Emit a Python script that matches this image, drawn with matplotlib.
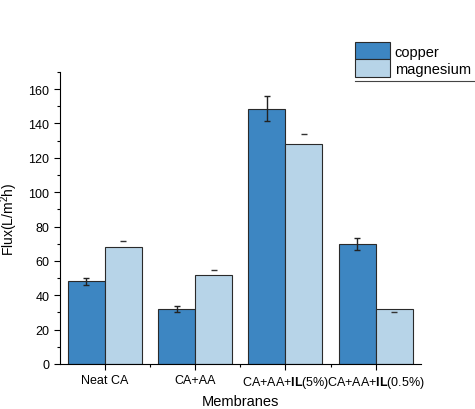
import numpy as np
import matplotlib
matplotlib.use('Agg')
import matplotlib.pyplot as plt
from matplotlib.lines import Line2D

plt.rcParams['font.family'] = ['Liberation Sans', 'DejaVu Sans']
plt.rcParams['mathtext.fontset'] = 'custom'
plt.rcParams['mathtext.rm'] = 'Liberation Sans'
plt.rcParams['mathtext.bf'] = 'Liberation Sans:bold'

# Dados
membranes = ['Neat CA', 'CA+AA',
             '$\\mathrm{CA{+}AA{+}}\\mathbf{IL}\\mathrm{(5\\%)}$',
             '$\\mathrm{CA{+}AA{+}}\\mathbf{IL}\\mathrm{(0.5\\%)}$']
copper = [48, 32, 148.5, 70]
copper_err = [2, 1.5, 7.3, 3.6]
magnesium = [68, 52, 128, 32]
magnesium_cap = [71.5, 54.5, 134, 30]

x = np.arange(len(membranes))
w = 0.41

fig = plt.figure(figsize=(4.75, 4.1), dpi=100)
ax = fig.add_axes([0.126, 0.110, 0.760, 0.712])

ax.bar(x - w / 2, copper, w, color='#3d86c2', edgecolor='#2a2a2a', linewidth=0.8,
       label='copper', zorder=2)
ax.errorbar(x - w / 2, copper, yerr=copper_err, fmt='none', ecolor='#222222',
            elinewidth=1.0, capsize=2.5, capthick=1.0, zorder=3)
ax.bar(x + w / 2, magnesium, w, color='#b7d4e8', edgecolor='#2a2a2a', linewidth=0.8,
       label='magnesium', zorder=2)
ax.plot(x + w / 2, magnesium_cap, linestyle='none', marker='_', markersize=5,
        color='#333333', markeredgewidth=1.0, zorder=3)

ax.set_xlim(-0.5, 3.5)
ax.set_ylim(0, 170)
ax.set_xticks(x)
ax.set_xticklabels(membranes, fontsize=9)
ax.set_xticks(x[:-1] + 0.5, minor=True)
ax.set_yticks(np.arange(0, 161, 20))
ax.set_yticks(np.arange(10, 171, 20), minor=True)
ax.tick_params(axis='y', labelsize=9)
ax.tick_params(which='major', length=4, width=0.8, direction='out')
ax.tick_params(which='minor', length=2.5, width=0.8, direction='out')

ax.spines['top'].set_visible(False)
ax.spines['right'].set_visible(False)

ax.set_xlabel('Membranes', fontsize=10.5, labelpad=3)
ax.set_ylabel('Flux(L/m$^2$h)', fontsize=10, labelpad=6)

leg = fig.legend(loc='upper left', bbox_to_anchor=(0.748, 0.895), frameon=False,
                 fontsize=10.5, handlelength=2.4, handleheight=1.45, labelspacing=0,
                 handletextpad=0.3, borderpad=0, borderaxespad=0)
fig.add_artist(Line2D([0.748, 1.0], [0.800, 0.800], transform=fig.transFigure,
                      color='#444444', linewidth=0.8))

fig.savefig('out.png', dpi=100)
